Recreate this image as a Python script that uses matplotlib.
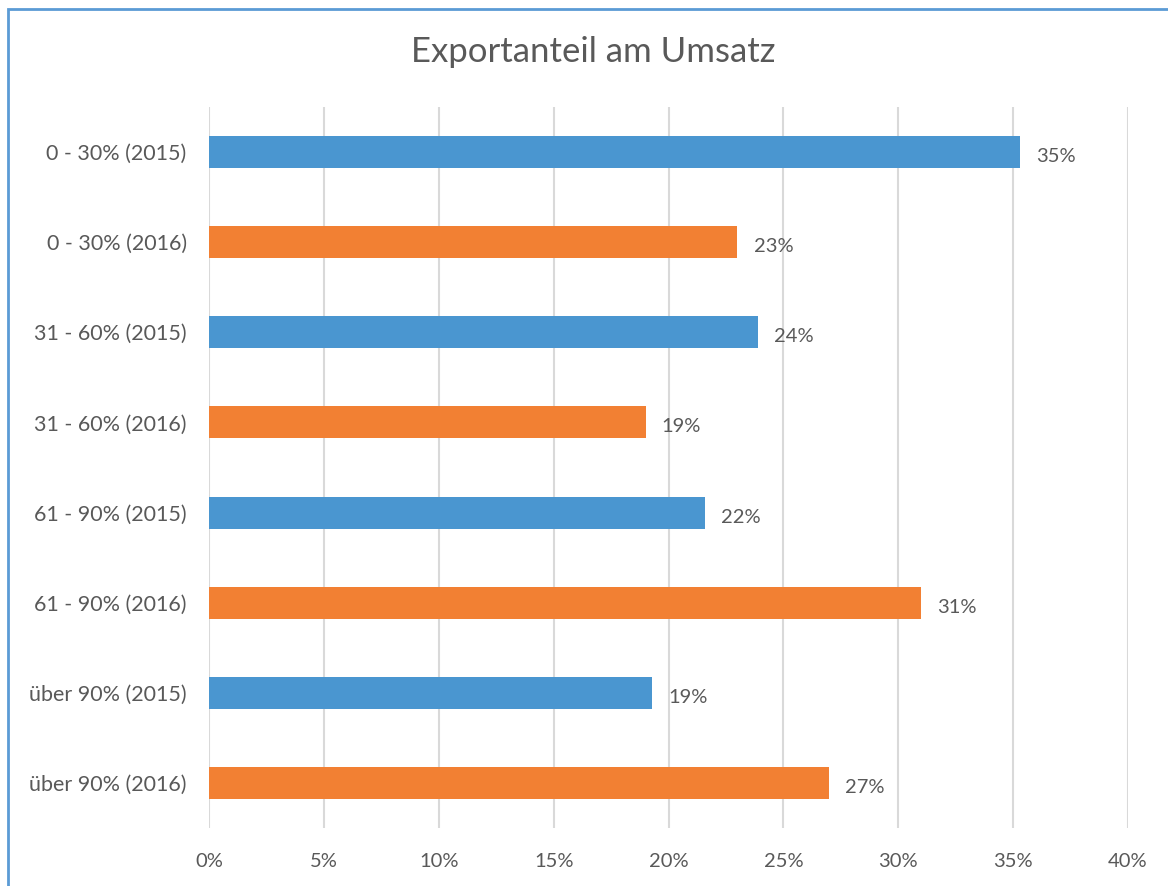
import matplotlib
matplotlib.use("Agg")
from matplotlib import pyplot as plt
from matplotlib.patches import Rectangle

categories = ["0 - 30% (2015)", "0 - 30% (2016)", "31 - 60% (2015)", "31 - 60% (2016)",
              "61 - 90% (2015)", "61 - 90% (2016)", "über 90% (2015)", "über 90% (2016)"]
values = [35.3, 23.0, 23.9, 19.0, 21.6, 31.0, 19.3, 27.0]
years = [2015, 2016, 2015, 2016, 2015, 2016, 2015, 2016]
xticks = [0, 5, 10, 15, 20, 25, 30, 35, 40]

COLOURS = {2015: "#4A96D0", 2016: "#F28033"}
TEXT = "#595959"

plt.rcParams["font.family"] = ["Lato", "DejaVu Sans"]

fig = plt.figure(figsize=(11.68, 8.86), dpi=100)
ax = fig.add_axes([0.1789, 0.0655, 0.7869, 0.8137])

pos = list(range(len(categories)))
ax.barh(pos, values, height=0.355, color=[COLOURS[y] for y in years], zorder=3)
for p, v in zip(pos, values):
    ax.text(v + 0.7, p + 0.05, f"{round(v)}%", va="center", ha="left", fontsize=14.5, color=TEXT)

ax.set_xlim(0, 40)
ax.set_ylim(len(categories) - 0.5, -0.5)
ax.set_yticks(pos)
ax.set_yticklabels(categories, fontsize=15.5, color=TEXT)
ax.set_xticks(xticks)
ax.set_xticklabels([f"{t}%" for t in xticks], fontsize=14.5, color=TEXT)
ax.tick_params(length=0, pad=16, axis="y")
ax.tick_params(length=0, pad=18, axis="x")
ax.grid(axis="x", color="#D9D9D9", linewidth=1.5, zorder=0)
for s in ax.spines.values():
    s.set_visible(False)

fig.text(593 / 1168, 1 - 52 / 886, "Exportanteil am Umsatz", ha="center", va="center",
         fontsize=25, color=TEXT)

# chart frame, cut off at the right and bottom like the source screenshot
fig.patches.append(Rectangle((8 / 1168, -0.05), 1.2, 1 - 9 / 886 + 0.05,
                             transform=fig.transFigure, fill=False,
                             edgecolor="#5B9BD5", linewidth=2))

fig.savefig("out.png", dpi=100, facecolor="white")
